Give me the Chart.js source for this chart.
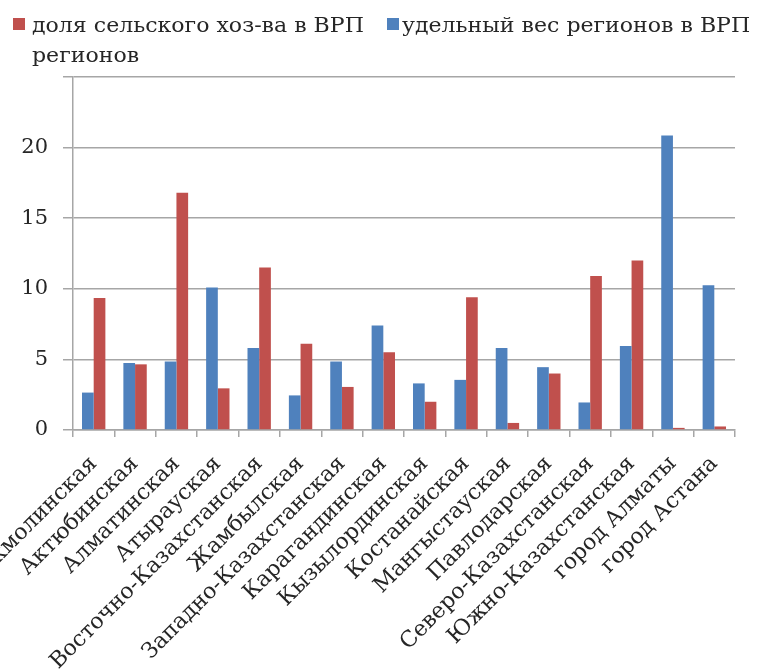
<!DOCTYPE html>
<html>
<head>
<meta charset="utf-8">
<script src="https://cdn.jsdelivr.net/npm/chart.js@4"></script>
<style>
  html, body { margin: 0; padding: 0; background: #fff; }
  #wrap { width: 768px; height: 672px; }
</style>
</head>
<body>
<div id="wrap"><canvas id="myChart" width="768" height="672"></canvas></div>
<script>
var regions = ["Акмолинская", "Актюбинская", "Алматинская", "Атырауская",
  "Восточно-Казахстанская", "Жамбылская", "Западно-Казахстанская", "Карагандинская",
  "Кызылординская", "Костанайская", "Мангыстауская", "Павлодарская",
  "Северо-Казахстанская", "Южно-Казахстанская", "город Алматы", "город Астана"];

// удельный вес регионов в ВРП
var vesValues = [2.65, 4.75, 4.85, 10.1, 5.8, 2.45, 4.85, 7.4, 3.3, 3.55, 5.8, 4.45, 1.95, 5.95, 20.85, 10.25];
// доля сельского хоз-ва в ВРП регионов
var selhozValues = [9.35, 4.65, 16.8, 2.95, 11.5, 6.1, 3.05, 5.5, 2.0, 9.4, 0.5, 4.0, 10.9, 12.0, 0.15, 0.25];

var yTicks = [0, 5, 10, 15, 20, 25];

var blue = "#4f81bd";
var red = "#c0504d";
var gridColor = "#a6a6a6";
var textColor = "#262626";
var fontName = "'DejaVu Serif', serif";

// легенда рисуется вручную, т.к. первая подпись переносится на 2 строки
function legendText(ctx, txt, x, y) {
  ctx.save();
  ctx.translate(x, y);
  ctx.scale(1.05, 1);
  ctx.fillText(txt, 0, 0);
  ctx.restore();
}

var legendPlugin = {
  id: "legendWrap",
  afterDraw: function (chart) {
    var ctx = chart.ctx;
    ctx.save();
    ctx.font = "21px " + fontName;
    ctx.textBaseline = "alphabetic";
    ctx.fillStyle = red;
    ctx.fillRect(13, 18, 12, 12);
    ctx.fillStyle = blue;
    ctx.fillRect(387, 18, 12, 12);
    ctx.fillStyle = textColor;
    legendText(ctx, "доля сельского хоз-ва в ВРП", 32, 32);
    legendText(ctx, "регионов", 32, 62);
    legendText(ctx, "удельный вес регионов в ВРП", 402, 32);
    ctx.restore();
  }
};

new Chart("myChart", {
  type: "bar",
  data: {
    labels: regions,
    datasets: [{
      label: "удельный вес регионов в ВРП",
      backgroundColor: blue,
      data: vesValues
    }, {
      label: "доля сельского хоз-ва в ВРП регионов",
      backgroundColor: red,
      data: selhozValues
    }]
  },
  options: {
    responsive: false,
    animation: false,
    devicePixelRatio: 1,
    categoryPercentage: 0.565,
    barPercentage: 1.0,
    layout: { padding: { top: 77, right: 33, left: 0, bottom: 0 } },
    plugins: {
      legend: { display: false },
      tooltip: { enabled: false }
    },
    scales: {
      x: {
        grid: {
          display: true,
          drawOnChartArea: false,
          drawTicks: true,
          tickLength: 7,
          color: gridColor,
          lineWidth: 1.5
        },
        border: { color: gridColor, width: 1.5 },
        ticks: {
          autoSkip: false,
          minRotation: 45,
          maxRotation: 45,
          padding: 14,
          color: textColor,
          font: { family: fontName, size: 22 }
        },
        afterFit: function (scale) {
          scale.height = 242;
          scale.paddingLeft = 0;
          scale.paddingRight = 0;
        }
      },
      y: {
        min: 0,
        max: 25,
        afterBuildTicks: function (scale) {
          scale.ticks = yTicks.map(function (v) { return { value: v }; });
        },
        grid: {
          color: gridColor,
          lineWidth: 1.5,
          tickLength: 10
        },
        border: { color: gridColor, width: 1.5 },
        ticks: {
          padding: 15,
          color: textColor,
          font: { family: fontName, size: 21 },
          callback: function (v) { return v === 25 ? "" : v; }
        },
        afterFit: function (scale) {
          scale.width = 73;
        }
      }
    }
  },
  plugins: [legendPlugin]
});
</script>
</body>
</html>
